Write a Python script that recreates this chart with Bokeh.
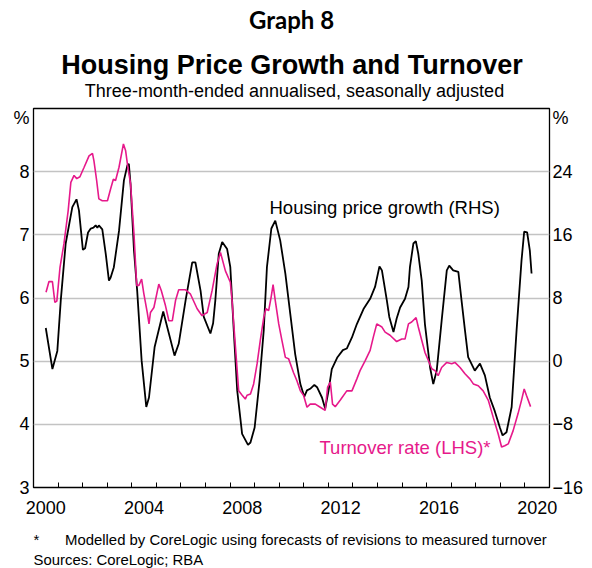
from bokeh.plotting import figure
from bokeh.models import Range1d, LinearAxis, FixedTicker, Label, Grid
from bokeh.layouts import column
from bokeh.embed import file_html
from bokeh.resources import INLINE

# ---------------- data ----------------
price_dates = [
    2000.50, 2000.77, 2000.97, 2001.11, 2001.31, 2001.58, 2001.75, 2001.85, 2002.01, 2002.10,
    2002.22, 2002.33, 2002.44, 2002.53, 2002.60, 2002.66, 2002.80, 2002.94, 2003.07, 2003.14,
    2003.27, 2003.48, 2003.68, 2003.82, 2003.88, 2003.95, 2004.09, 2004.22, 2004.40, 2004.59,
    2004.70, 2004.93, 2005.28, 2005.51, 2005.74, 2005.91, 2006.19, 2006.46, 2006.59, 2006.80,
    2006.93, 2007.20, 2007.31, 2007.40, 2007.54, 2007.68, 2007.88, 2008.01, 2008.15, 2008.29,
    2008.49, 2008.73, 2008.83, 2009.00, 2009.20, 2009.37, 2009.50, 2009.68, 2009.84, 2010.04,
    2010.25, 2010.45, 2010.65, 2010.86, 2011.02, 2011.13, 2011.26, 2011.43, 2011.54, 2011.74,
    2011.87, 2012.01, 2012.14, 2012.37, 2012.59, 2012.75, 2012.96, 2013.16, 2013.43, 2013.70,
    2013.90, 2014.08, 2014.18, 2014.38, 2014.48, 2014.65, 2014.78, 2014.92, 2015.12, 2015.26,
    2015.32, 2015.46, 2015.56, 2015.66, 2015.80, 2015.93, 2016.14, 2016.27, 2016.41, 2016.61,
    2016.82, 2016.92, 2017.08, 2017.29, 2017.42, 2017.56, 2017.69, 2017.96, 2018.17, 2018.37,
    2018.57, 2018.77, 2018.98, 2019.09, 2019.25, 2019.46, 2019.66, 2019.86, 2019.97, 2020.09,
    2020.20, 2020.27,
]
price_growth = [
    4.2, -1.0, 1.3, 7.7, 14.9, 19.5, 20.5, 19.1, 14.1, 14.3,
    16.3, 16.8, 16.9, 17.2, 16.9, 17.2, 16.7, 13.6, 10.2, 10.6,
    11.9, 16.5, 22.9, 24.8, 25.0, 22.4, 14.0, 8.9, 0.1, -5.8,
    -4.6, 1.8, 6.3, 3.5, 0.7, 2.2, 7.7, 12.5, 12.5, 8.9,
    5.6, 3.5, 4.8, 7.7, 13.6, 15.1, 14.2, 11.9, 3.9, -3.7,
    -9.2, -10.6, -10.3, -8.4, -2.5, 3.9, 11.9, 16.8, 17.8, 15.3,
    11.1, 6.0, 0.9, -2.9, -4.5, -3.7, -3.5, -3.0, -3.3, -4.6,
    -6.0, -3.7, -1.0, 0.5, 1.4, 1.6, 3.0, 4.7, 6.6, 7.9,
    9.4, 12.0, 11.5, 7.7, 5.6, 3.7, 5.4, 6.8, 7.9, 9.4,
    11.9, 14.9, 15.2, 13.6, 10.2, 4.7, -0.8, -2.9, -1.2, 5.1,
    11.5, 12.1, 11.5, 11.3, 7.7, 3.9, 0.5, -1.2, -0.3, -1.8,
    -4.6, -6.3, -8.4, -9.4, -9.0, -5.8, 3.9, 12.7, 16.4, 16.3,
    14.0, 11.1,
]

turnover_dates = [
    2000.51, 2000.63, 2000.77, 2000.87, 2000.95, 2001.08, 2001.24, 2001.41, 2001.52, 2001.65,
    2001.76, 2001.89, 2002.06, 2002.26, 2002.40, 2002.46, 2002.57, 2002.66, 2002.80, 2003.01,
    2003.14, 2003.25, 2003.34, 2003.48, 2003.66, 2003.75, 2003.84, 2003.95, 2004.09, 2004.20,
    2004.29, 2004.40, 2004.49, 2004.63, 2004.70, 2004.76, 2004.90, 2005.10, 2005.20, 2005.37,
    2005.51, 2005.65, 2005.78, 2005.91, 2006.19, 2006.39, 2006.66, 2006.86, 2007.07, 2007.27,
    2007.47, 2007.61, 2007.81, 2008.01, 2008.08, 2008.22, 2008.35, 2008.49, 2008.62, 2008.69,
    2008.83, 2008.96, 2009.10, 2009.23, 2009.37, 2009.46, 2009.57, 2009.67, 2009.75, 2009.84,
    2009.98, 2010.11, 2010.25, 2010.38, 2010.58, 2010.72, 2010.86, 2010.99, 2011.13, 2011.26,
    2011.47, 2011.67, 2011.87, 2011.97, 2012.08, 2012.17, 2012.28, 2012.48, 2012.75, 2012.96,
    2013.16, 2013.29, 2013.50, 2013.70, 2013.83, 2013.97, 2014.18, 2014.31, 2014.51, 2014.78,
    2014.99, 2015.12, 2015.26, 2015.39, 2015.57, 2015.66, 2015.80, 2015.93, 2016.07, 2016.21,
    2016.34, 2016.47, 2016.61, 2016.82, 2017.02, 2017.15, 2017.36, 2017.56, 2017.76, 2017.90,
    2018.10, 2018.30, 2018.51, 2018.71, 2018.91, 2019.05, 2019.18, 2019.32, 2019.52, 2019.72,
    2019.86, 2019.97, 2020.06, 2020.23,
]
turnover_rate = [
    6.09, 6.26, 6.26, 5.93, 5.95, 6.49, 6.86, 7.38, 7.83, 7.94,
    7.89, 7.92, 8.07, 8.25, 8.29, 8.17, 7.86, 7.57, 7.54, 7.54,
    7.73, 7.88, 7.86, 8.07, 8.44, 8.33, 8.07, 7.81, 7.01, 6.20,
    6.20, 6.30, 6.07, 5.77, 5.59, 5.77, 5.85, 6.22, 6.12, 5.88,
    5.64, 5.64, 5.96, 6.13, 6.13, 6.06, 5.83, 5.72, 5.77, 6.12,
    6.54, 6.72, 6.43, 6.25, 5.96, 5.22, 4.53, 4.46, 4.40, 4.46,
    4.48, 4.64, 4.96, 5.33, 5.69, 5.83, 5.80, 6.01, 6.21, 5.96,
    5.59, 5.33, 5.06, 5.04, 4.82, 4.69, 4.53, 4.46, 4.27, 4.32,
    4.32, 4.27, 4.22, 4.59, 4.67, 4.32, 4.28, 4.38, 4.53, 4.53,
    4.72, 4.85, 5.01, 5.17, 5.38, 5.59, 5.54, 5.46, 5.41, 5.31,
    5.35, 5.35, 5.59, 5.62, 5.69, 5.54, 5.33, 5.14, 5.01, 4.88,
    4.85, 4.77, 4.90, 4.98, 4.96, 4.98, 4.90, 4.80, 4.72, 4.64,
    4.61, 4.53, 4.38, 4.11, 3.85, 3.64, 3.66, 3.69, 3.90, 4.17,
    4.38, 4.56, 4.46, 4.28,
]

year_labels = ["2000", "2004", "2008", "2012", "2016", "2020"]
year_ticks = list(range(2001, 2021))
left_ticks = [3, 4, 5, 6, 7, 8]
right_ticks = [-16, -8, 0, 8, 16, 24]

PINK = "#e6198b"
FONT = "Liberation Sans"
W = 592
BORDER_L = 33
BORDER_R = 43
FRAME_W = W - BORDER_L - BORDER_R


def text_panel(height, y_top):
    """Blank figure with the same side borders as the chart (so the column's
    frame alignment is a no-op); coordinates are page pixels."""
    f = figure(frame_width=FRAME_W, frame_height=height, title=None,
               output_backend="svg", toolbar_location=None,
               x_range=Range1d(BORDER_L, BORDER_L + FRAME_W),
               y_range=Range1d(y_top + height, y_top),
               x_axis_type=None, y_axis_type=None,
               min_border=0, min_border_left=BORDER_L, min_border_right=BORDER_R,
               min_border_top=0, min_border_bottom=0)
    f.outline_line_color = None
    return f


def lab(f, text, x, y_baseline, size_px, align="left", color="black", font=FONT,
        style="normal", mid=0.347):
    f.add_layout(Label(x=x, y=y_baseline - mid * size_px, text=text, text_font=font,
                       text_font_size=f"{size_px}px", text_color=color,
                       text_align=align, text_baseline="middle",
                       text_font_style=style))


# ---------------- header ----------------
HEAD_H = 106
header = text_panel(HEAD_H, 0)
lab(header, "Graph 8", 291, 28.5, 24, align="center", font="Lato", style="bold", mid=0.387)
lab(header, "Housing Price Growth and Turnover", 291.5, 74, 27, align="center", style="bold")
lab(header, "Three-month-ended annualised, seasonally adjusted", 294, 97, 18, align="center")

# ---------------- main chart ----------------
MAIN_TOP_BORDER = 2
MAIN_BOTTOM_BORDER = 36
FRAME_H = 379
chart = figure(frame_width=FRAME_W, frame_height=FRAME_H, title=None,
               output_backend="svg", toolbar_location=None,
               x_range=Range1d(2000, 2021), y_range=Range1d(3, 9),
               x_axis_type=None, y_axis_type=None,
               min_border_left=BORDER_L, min_border_right=BORDER_R,
               min_border_top=MAIN_TOP_BORDER, min_border_bottom=MAIN_BOTTOM_BORDER)
chart.extra_y_ranges = {"right": Range1d(-16, 32)}
chart.outline_line_color = "black"
chart.outline_line_width = 1.3

label_pos = {int(l) + 0.5: l for l in year_labels}
xaxis = LinearAxis(
    ticker=FixedTicker(ticks=list(label_pos.keys()), minor_ticks=year_ticks),
    major_label_overrides=label_pos,
    major_tick_line_color=None, major_tick_in=0, major_tick_out=0,
    minor_tick_line_color="black", minor_tick_in=5, minor_tick_out=0,
    axis_line_color=None,
    major_label_text_font=FONT, major_label_text_font_size="18px",
    major_label_text_color="black", major_label_standoff=13)
chart.add_layout(xaxis, "below")

pct_left = 8.85
yleft = LinearAxis(
    ticker=FixedTicker(ticks=left_ticks + [pct_left]),
    major_label_overrides={pct_left: "%"},
    major_tick_line_color=None, major_tick_in=0, major_tick_out=0,
    minor_tick_line_color=None, axis_line_color=None,
    major_label_text_font=FONT, major_label_text_font_size="18px",
    major_label_text_color="black", major_label_standoff=4)
chart.add_layout(yleft, "left")

pct_right = 30.8
yright = LinearAxis(
    y_range_name="right",
    ticker=FixedTicker(ticks=right_ticks + [pct_right]),
    major_label_overrides={pct_right: "%"},
    major_tick_line_color=None, major_tick_in=0, major_tick_out=0,
    minor_tick_line_color=None, axis_line_color=None,
    major_label_text_font=FONT, major_label_text_font_size="18px",
    major_label_text_color="black", major_label_standoff=3)
chart.add_layout(yright, "right")

grid = Grid(dimension=1, ticker=FixedTicker(ticks=[4, 5, 6, 7, 8]),
            grid_line_color="#c3c3c3", grid_line_width=1.5)
chart.add_layout(grid)

chart.line(price_dates, price_growth, y_range_name="right",
           line_color="black", line_width=1.8)
chart.line(turnover_dates, turnover_rate, line_color=PINK, line_width=1.6)

# in-frame annotations (screen units from frame's left / bottom)
chart.add_layout(Label(x=236, y=270, x_units="screen", y_units="screen",
                       text="Housing price growth (RHS)", text_font=FONT,
                       text_font_size="18.5px", text_color="black"))
chart.add_layout(Label(x=286, y=30, x_units="screen", y_units="screen",
                       text="Turnover rate (LHS)*", text_font=FONT,
                       text_font_size="18.5px", text_color=PINK))

# ---------------- footer ----------------
main_h = MAIN_TOP_BORDER + FRAME_H + MAIN_BOTTOM_BORDER
foot_top = HEAD_H + main_h
footer = text_panel(568 - foot_top, foot_top)
lab(footer, "*", 33, 545, 14.9)
lab(footer, "Modelled by CoreLogic using forecasts of revisions to measured turnover",
    64.5, 545, 14.9)
lab(footer, "Sources: CoreLogic; RBA", 33, 564.5, 14.9)

layout = column(header, chart, footer, spacing=0)
open("out.html", "w").write(file_html(layout, INLINE))
